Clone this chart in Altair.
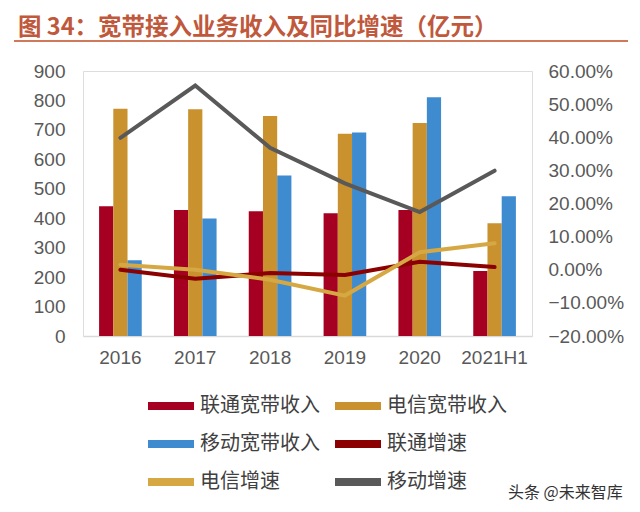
import altair as alt
import pandas as pd

years = ["2016", "2017", "2018", "2019", "2020", "2021H1"]
bar_series = ["联通宽带收入", "电信宽带收入", "移动宽带收入"]
line_series = ["联通增速", "电信增速", "移动增速"]

unicom_rev = [441, 428, 424, 417, 428, 221]
telecom_rev = [772, 770, 747, 687, 723, 383]
mobile_rev = [257, 399, 545, 691, 811, 475]

unicom_growth = [0.0, -2.7, -1.0, -1.6, 2.4, 0.8]
telecom_growth = [1.5, 0.0, -3.0, -7.8, 5.3, 8.0]
mobile_growth = [39.8, 55.6, 36.8, 26.1, 17.4, 29.9]

left_ticks = [0, 100, 200, 300, 400, 500, 600, 700, 800, 900]
right_ticks = [-0.2, -0.1, 0.0, 0.1, 0.2, 0.3, 0.4, 0.5, 0.6]

series_colors = {
    "联通宽带收入": "#A50021",
    "电信宽带收入": "#C9922E",
    "移动宽带收入": "#3F8BD0",
    "联通增速": "#8B0000",
    "电信增速": "#D6A843",
    "移动增速": "#595959",
}
# legend is filled column by column (3 rows x 2 columns)
legend_order = ["联通宽带收入", "移动宽带收入", "电信增速", "电信宽带收入", "联通增速", "移动增速"]
legend_colors = [series_colors[s] for s in legend_order]

FONT = "Liberation Sans, Noto Sans CJK SC"
CJK = "Noto Sans CJK SC"

bar_rows = []
for s, vals in zip(bar_series, [unicom_rev, telecom_rev, mobile_rev]):
    for y, v in zip(years, vals):
        bar_rows.append({"year": y, "series": s, "value": v})
bar_df = pd.DataFrame(bar_rows)

line_rows = []
for i, (s, vals) in enumerate(zip(line_series, [unicom_growth, telecom_growth, mobile_growth])):
    for y, v in zip(years, vals):
        line_rows.append({"year": y, "series": s, "growth": v / 100.0, "ord": i})
line_df = pd.DataFrame(line_rows)

color = alt.Color(
    "series:N",
    scale=alt.Scale(domain=legend_order, range=legend_colors),
    legend=alt.Legend(
        title=None,
        orient="none",
        legendX=65,
        legendY=312,
        columns=2,
        columnPadding=15,
        rowPadding=5,
        symbolType="M-1,-0.17L1,-0.17L1,0.17L-1,0.17Z",
        symbolSize=2116,
        symbolStrokeWidth=0,
        symbolOpacity=1,
        labelFont=CJK,
        labelFontSize=20,
        labelColor="#404040",
        labelOffset=6,
        labelLimit=300,
    ),
)

x = alt.X(
    "year:N",
    sort=years,
    scale=alt.Scale(domain=years, paddingInner=0.43, paddingOuter=0.215),
    axis=alt.Axis(
        title=None,
        labelAngle=0,
        ticks=False,
        domainColor="#D9D9D9",
        domainWidth=1.5,
        labelPadding=12,
        labelFont=FONT,
        labelFontSize=19,
        labelColor="#595959",
    ),
)

bars = alt.Chart(bar_df).mark_bar().encode(
    x=x,
    xOffset=alt.XOffset(
        "series:N",
        scale=alt.Scale(domain=bar_series, paddingInner=0, paddingOuter=0),
    ),
    y=alt.Y(
        "value:Q",
        scale=alt.Scale(domain=[0, 900], nice=False, zero=True),
        axis=alt.Axis(
            title=None,
            orient="left",
            values=left_ticks,
            domain=False,
            ticks=False,
            grid=False,
            labelPadding=18,
            labelFont=FONT,
            labelFontSize=19,
            labelColor="#595959",
        ),
    ),
    color=color,
)

lines = alt.Chart(line_df).mark_line(strokeWidth=4, strokeCap="round").encode(
    x=x,
    y=alt.Y(
        "growth:Q",
        scale=alt.Scale(domain=[-0.2, 0.6], nice=False, zero=False),
        axis=alt.Axis(
            title=None,
            orient="right",
            values=right_ticks,
            format=".2%",
            domain=False,
            ticks=False,
            grid=False,
            labelPadding=16,
            labelFont=FONT,
            labelFontSize=19,
            labelColor="#595959",
        ),
    ),
    color=color,
    order=alt.Order("ord:Q"),
)

one = pd.DataFrame({"k": [0]})
top_rule = alt.Chart(one).mark_rule(color="#D0785A", strokeWidth=2).encode(
    x=alt.value(-69), x2=alt.value(545), y=alt.value(-30)
)
bottom_rule = alt.Chart(one).mark_rule(color="#D0785A", strokeWidth=2).encode(
    x=alt.value(-69), x2=alt.value(545), y=alt.value(435)
)
watermark = alt.Chart(one).mark_text(
    text="头条 @未来智库", font=CJK, fontSize=16, color="#333333", align="left", baseline="middle"
).encode(x=alt.value(425), y=alt.value(422))

chart = (
    alt.layer(bars, lines, top_rule, bottom_rule, watermark)
    .resolve_scale(y="independent")
    .properties(
        width=449,
        height=265,
        autosize=alt.AutoSizeParams(type="none"),
        padding={"left": 75, "top": 63, "right": 100, "bottom": 168},
        title=alt.Title(
            "图 34：宽带接入业务收入及同比增速（亿元）",
            anchor="start",
            frame="group",
            dx=-65,
            offset=1,
            font=CJK,
            fontSize=23.5,
            fontWeight="bold",
            color="#C0583C",
        ),
    )
    .configure_view(stroke=None)
    .configure(background="white")
)

chart.save("out.html", embed_options={"renderer": "svg", "actions": False})
